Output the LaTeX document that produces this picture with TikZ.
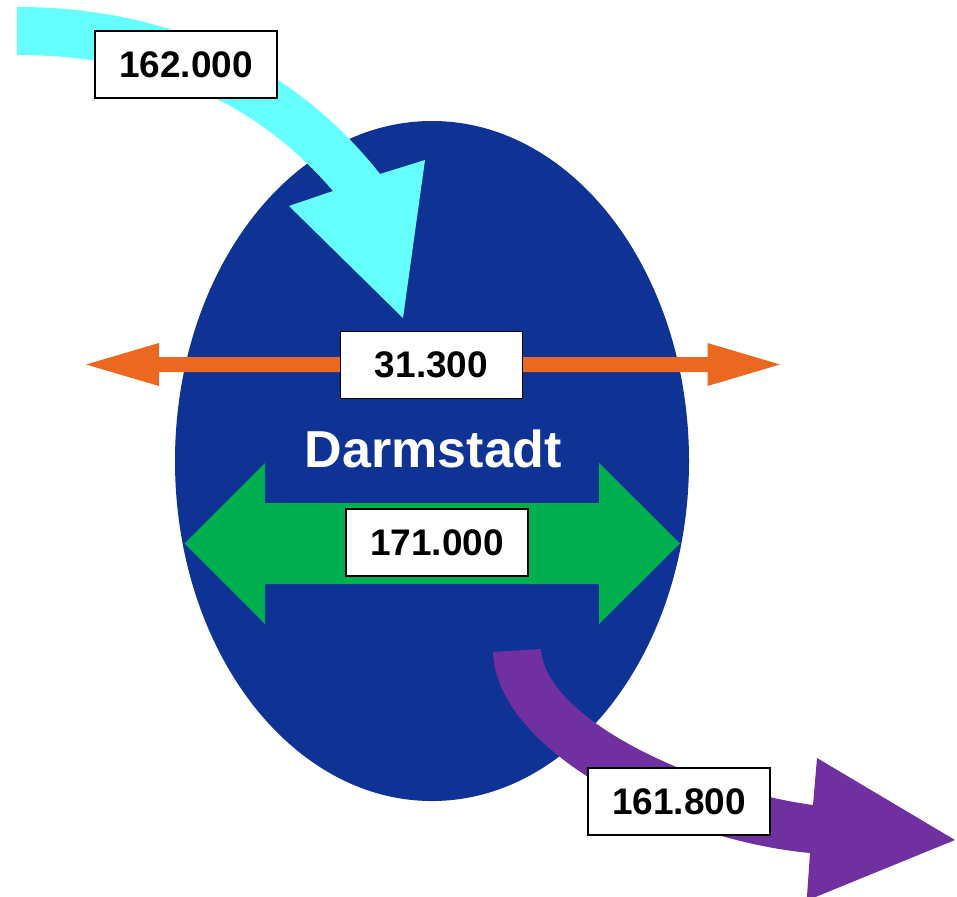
\documentclass[tikz,border=0pt]{standalone}
\usepackage{fontspec}
\setmainfont{Liberation Sans}
\definecolor{dblue}{RGB}{15,51,148}
\definecolor{acyan}{RGB}{102,255,255}
\definecolor{aorange}{RGB}{235,104,32}
\definecolor{agreen}{RGB}{0,176,80}
\definecolor{apurple}{RGB}{112,48,160}
\begin{document}
\begin{tikzpicture}[x=1pt,y=-1pt,
  numbox/.style={draw=black, line width=1.5pt, fill=white, minimum width=182pt,
    minimum height=67pt, inner sep=0pt, font=\fontsize{37}{44}\selectfont\bfseries},
  citylabel/.style={font=\fontsize{52}{60}\selectfont\bfseries, text=white, inner sep=0pt}
]
\useasboundingbox (0,0) rectangle (957,896);
\clip (0,0) rectangle (957,896);
% city ellipse
\fill[dblue] (432,461) ellipse [x radius=257pt, y radius=340pt];
% green double arrow
\fill[agreen] (184.6,543.5) -- (265,463) -- (265,503) -- (599,503) -- (599,463)
  -- (680,543.5) -- (599,624) -- (599,584) -- (265,584) -- (265,624) -- cycle;
% orange double arrow
\fill[aorange] (86,364.5) -- (159,343) -- (159,357) -- (707.5,357) -- (707.5,343)
  -- (780,364.5) -- (707.5,386) -- (707.5,372) -- (159,372) -- (159,386) -- cycle;
% cyan incoming arrow
\fill[acyan] (17,7) .. controls (187,7) and (305,79) .. (380,174) -- (425,160)
  -- (403,318) -- (289,206) -- (333,191) .. controls (248.5,92.2) and (137,55) .. (17,55) -- cycle;
% purple outgoing arrow
\fill[apurple] (541,649) .. controls (545,720) and (700,790) .. (813,805) -- (817,758)
  -- (955,840) -- (806.7,900.6) -- (810,853) .. controls (670,840) and (496,750) .. (493,652) -- cycle;
% labels
\node[numbox] (in) at (186,64.5) {162.000};
\node[numbox] (cross) at (431.5,365) {31.300};
\node[numbox] (inner) at (437,542.5) {171.000};
\node[numbox] (out) at (679,801.5) {161.800};
\node[citylabel, anchor=base] (city) at (433.5,467) {Darmstadt};
\end{tikzpicture}
\end{document}
